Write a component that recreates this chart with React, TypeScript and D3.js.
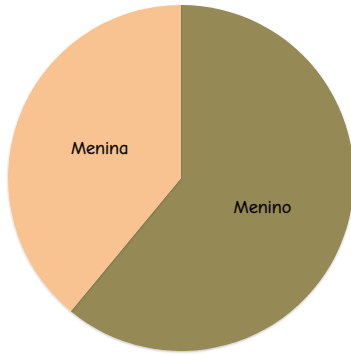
import React from "react";
import * as d3 from "d3";

const categories = ["Menino", "Menina"];
const values = [61, 39];
const colors = ["#958A54", "#F9C391"];

export default function App() {
  const width = 351;
  const height = 356;
  const cx = 181;
  const cy = 178;
  const r = 173;
  const data = categories.map((c, i) => ({ label: c, value: values[i], color: colors[i] }));
  const pie = d3.pie<any>().value((d: any) => d.value).sort(null);
  const arcs = pie(data);
  const arc = d3.arc<any>().innerRadius(0).outerRadius(r);
  const labelArc = d3.arc<any>().innerRadius(r * 0.5).outerRadius(r * 0.5);
  return (
    <svg width={width} height={height} style={{ position: "absolute", left: 0, top: 0, background: "#fff" }}>
      <defs>
        <filter id="sh" x="-10%" y="-10%" width="120%" height="120%">
          <feDropShadow dx="0" dy="1" stdDeviation="1" floodColor="#000" floodOpacity="0.25" />
        </filter>
      </defs>
      <g transform={`translate(${cx},${cy})`}>
        {arcs.map((a, i) => (
          <path key={i} d={arc(a) as string} fill={a.data.color} filter="url(#sh)" />
        ))}
        {arcs.map((a, i) => {
          const [x, y] = labelArc.centroid(a);
          return (
            <text key={"t" + i} x={x} y={y} textAnchor="middle" dominantBaseline="central"
              fontFamily="'Comic Sans MS', 'Comic Neue', 'Open Sans', sans-serif" fontSize={18}
              fill="#000" stroke="#000" strokeWidth={0.4}>
              {a.data.label}
            </text>
          );
        })}
      </g>
    </svg>
  );
}
